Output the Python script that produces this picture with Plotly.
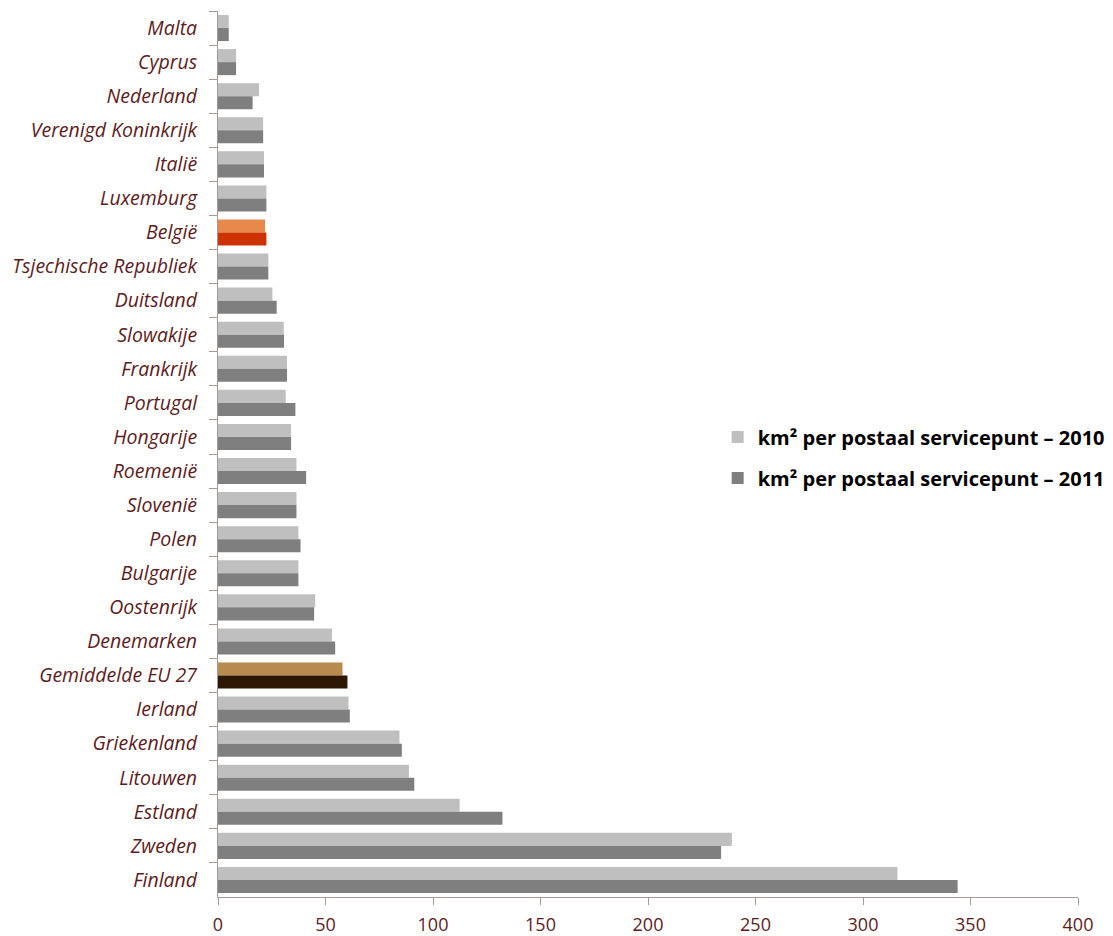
import plotly.graph_objects as go

# Countries, top to bottom
countries = [
    "Malta", "Cyprus", "Nederland", "Verenigd Koninkrijk", "Italië", "Luxemburg",
    "België", "Tsjechische Republiek", "Duitsland", "Slowakije", "Frankrijk",
    "Portugal", "Hongarije", "Roemenië", "Slovenië", "Polen", "Bulgarije",
    "Oostenrijk", "Denemarken", "Gemiddelde EU 27", "Ierland", "Griekenland",
    "Litouwen", "Estland", "Zweden", "Finland",
]

# km² per postal service point
km2_2010 = [5.0, 8.4, 19.1, 21.0, 21.4, 22.5, 21.9, 23.4, 25.3, 30.6, 32.1,
            31.5, 34.0, 36.5, 36.5, 37.4, 37.4, 45.2, 53.0, 57.9, 60.7, 84.4,
            88.8, 112.4, 239.0, 316.0]
km2_2011 = [5.0, 8.4, 16.1, 21.0, 21.4, 22.5, 22.5, 23.4, 27.3, 30.7, 32.1,
            36.0, 34.0, 41.0, 36.5, 38.4, 37.4, 44.7, 54.5, 60.2, 61.3, 85.5,
            91.3, 132.3, 234.0, 344.0]

x_ticks = [0, 50, 100, 150, 200, 250, 300, 350, 400]

# Highlighted rows get their own colours
base_2010, base_2011 = "#bfbfbf", "#7f7f7f"
highlight_2010 = {"België": "#e6894a", "Gemiddelde EU 27": "#b88a4e"}
highlight_2011 = {"België": "#cc3300", "Gemiddelde EU 27": "#2d1804"}

colors_2010 = [highlight_2010.get(c, base_2010) for c in countries]
colors_2011 = [highlight_2011.get(c, base_2011) for c in countries]

label_font = "'Open Sans', 'Noto Sans', 'DejaVu Sans', sans-serif"
maroon = "#5e1c1c"
axis_col = "#a89898"

fig = go.Figure()
fig.add_trace(go.Bar(
    y=countries, x=km2_2010, orientation="h",
    name="km² per postaal servicepunt – 2010", legendgroup="y2010",
    marker=dict(color=colors_2010, line=dict(width=0)),
))
fig.add_trace(go.Bar(
    y=countries, x=km2_2011, orientation="h",
    name="km² per postaal servicepunt – 2011", legendgroup="y2011",
    marker=dict(color=colors_2011, line=dict(width=0)),
))

fig.update_layout(
    width=1113, height=936,
    margin=dict(l=218, r=35, t=11, b=39, autoexpand=False),
    paper_bgcolor="white", plot_bgcolor="white",
    barmode="group", bargap=0.235, bargroupgap=0.0,
    showlegend=True,
    legend=dict(
        x=0.581, y=0.496, xanchor="left", yanchor="middle",
        font=dict(family=label_font, size=20, color="black", weight="bold"),
        traceorder="grouped", itemsizing="constant",
        tracegroupgap=12, bgcolor="rgba(0,0,0,0)",
    ),
    xaxis=dict(
        range=[0, 400], tickvals=x_ticks, ticktext=[str(v) for v in x_ticks],
        showgrid=False, zeroline=False, automargin=False,
        showline=True, linecolor=axis_col, linewidth=1,
        ticks="outside", ticklen=7, tickcolor=axis_col,
        ticklabelstandoff=4,
        tickfont=dict(family=label_font, size=18, color=maroon),
    ),
    yaxis=dict(
        autorange="reversed", type="category", automargin=False,
        showgrid=False, zeroline=False,
        showline=True, linecolor=axis_col, linewidth=1,
        ticks="outside", ticklen=8, tickcolor=axis_col, tickson="boundaries",
        ticklabelstandoff=16,
        tickfont=dict(family=label_font, size=19.5, color=maroon, style="italic"),
    ),
)

fig.write_html("out.html")
